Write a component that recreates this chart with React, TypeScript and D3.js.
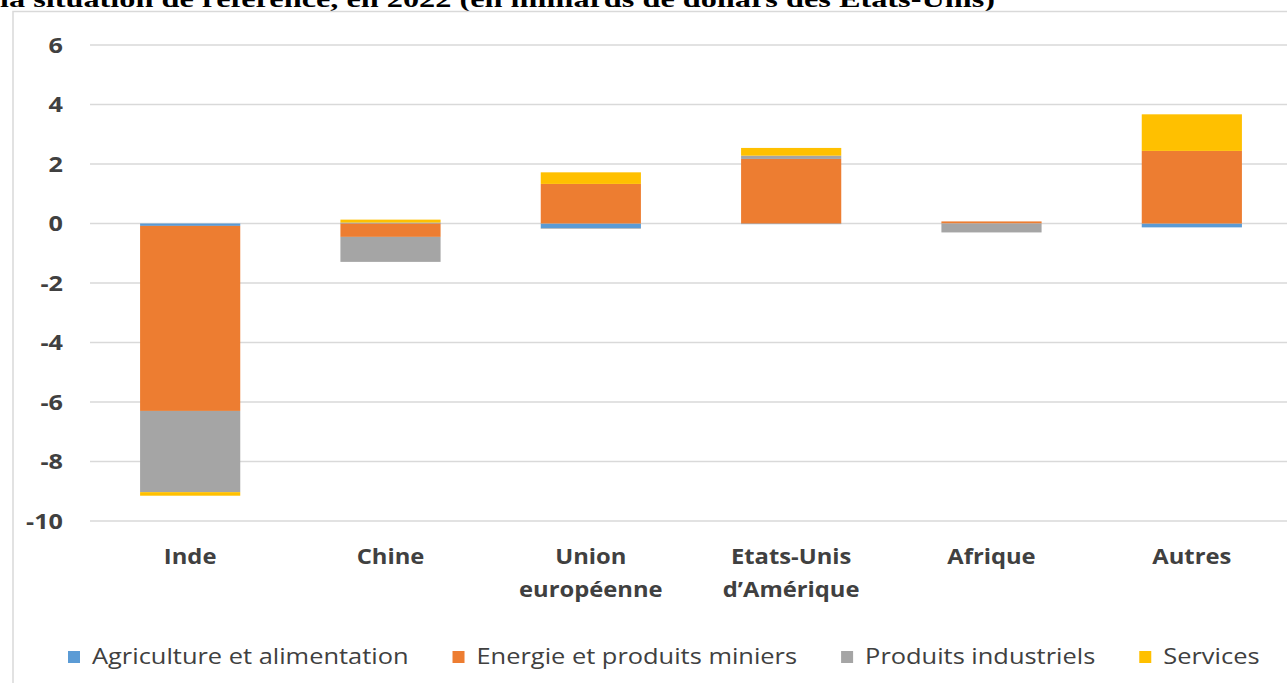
import React, { useEffect, useRef } from 'react';
import * as d3 from 'd3';

const categories = ['Inde', 'Chine', 'Union européenne', 'Etats-Unis d’Amérique', 'Afrique', 'Autres'];
const categoryLines = [['Inde'], ['Chine'], ['Union', 'européenne'], ['Etats-Unis', 'd’Amérique'], ['Afrique'], ['Autres']];

const seriesNames = ['Agriculture et alimentation', 'Energie et produits miniers', 'Produits industriels', 'Services'];
const seriesColors = ['#5b9bd5', '#ed7d31', '#a5a5a5', '#ffc000'];

const agriculture = [-0.08, 0.03, -0.16, -0.02, 0, -0.13];
const energie = [-6.22, -0.45, 1.33, 2.17, 0.07, 2.44];
const industriels = [-2.73, -0.84, -0.02, 0.11, -0.3, 0];
const services = [-0.12, 0.1, 0.39, 0.26, 0, 1.23];

const yTicks = [6, 4, 2, 0, -2, -4, -6, -8, -10];

const title = 'la situation de référence, en 2022 (en milliards de dollars des Etats-Unis)';

const W = 1287;
const H = 683;

// the source picture is a bit wider than tall, so stretch texts sideways
const stretch = (sel: d3.Selection<SVGTextElement, any, any, any>, f: number) => {
  sel.each(function () {
    const w = this.getComputedTextLength();
    d3.select(this)
      .attr('textLength', w * f)
      .attr('lengthAdjust', 'spacingAndGlyphs');
  });
};

const App: React.FC = () => {
  const ref = useRef<SVGSVGElement>(null);

  useEffect(() => {
    if (!ref.current) return;
    const svg = d3.select(ref.current);
    svg.selectAll('*').remove();

    const rows = categories.map((c, i) => ({
      cat: c,
      [seriesNames[0]]: agriculture[i],
      [seriesNames[1]]: energie[i],
      [seriesNames[2]]: industriels[i],
      [seriesNames[3]]: services[i],
    }));

    const x = d3.scaleBand<string>()
      .domain(categories)
      .range([90, 1292])
      .paddingInner(0.5)
      .paddingOuter(0.25);

    const y = d3.scaleLinear()
      .domain([-10, 6])
      .range([521, 45]);

    // title, cut by the top of the page
    svg.append('text')
      .attr('x', 0)
      .attr('y', 7)
      .attr('font-family', '"Liberation Serif", "Times New Roman", serif')
      .attr('font-weight', 'bold')
      .attr('font-size', 24)
      .attr('fill', '#000')
      .attr('textLength', 995)
      .attr('lengthAdjust', 'spacingAndGlyphs')
      .text(title);

    // chart frame
    svg.append('rect')
      .attr('x', 13)
      .attr('y', 11.5)
      .attr('width', W + 20)
      .attr('height', H + 20)
      .attr('fill', 'none')
      .attr('stroke', '#d9d9d9')
      .attr('stroke-width', 1.5);

    // grid
    svg.append('g')
      .selectAll('line')
      .data(yTicks)
      .join('line')
      .attr('x1', 90)
      .attr('x2', W)
      .attr('y1', d => y(d))
      .attr('y2', d => y(d))
      .attr('stroke', '#d9d9d9')
      .attr('stroke-width', 1.5);

    // y labels
    const yLabels = svg.append('g')
      .selectAll<SVGTextElement, number>('text')
      .data(yTicks)
      .join('text')
      .attr('x', 63)
      .attr('y', d => y(d))
      .attr('dy', '0.36em')
      .attr('text-anchor', 'end')
      .attr('font-family', '"Open Sans", "DejaVu Sans", sans-serif')
      .attr('font-weight', 'bold')
      .attr('font-size', 21)
      .attr('fill', '#404040')
      .text(d => String(d));
    stretch(yLabels, 1.2);

    // stacked bars
    const stack = d3.stack<any>()
      .keys(seriesNames)
      .offset(d3.stackOffsetDiverging);
    const layers = stack(rows);

    layers.forEach((layer, k) => {
      svg.append('g')
        .attr('fill', seriesColors[k])
        .selectAll('rect')
        .data(layer)
        .join('rect')
        .attr('x', d => x(d.data.cat) as number)
        .attr('width', x.bandwidth())
        .attr('y', d => y(Math.max(d[0], d[1])))
        .attr('height', d => Math.abs(y(d[0]) - y(d[1])));
    });

    // category labels
    const catG = svg.append('g')
      .attr('font-family', '"Open Sans", "DejaVu Sans", sans-serif')
      .attr('font-weight', 'bold')
      .attr('font-size', 22)
      .attr('fill', '#404040')
      .attr('text-anchor', 'middle');
    categories.forEach((c, i) => {
      categoryLines[i].forEach((line, j) => {
        const t = catG.append('text')
          .attr('x', (x(c) as number) + x.bandwidth() / 2)
          .attr('y', 564 + j * 33)
          .text(line);
        stretch(t as any, 1.08);
      });
    });

    // legend
    const legend = svg.append('g')
      .attr('font-family', '"Open Sans", "DejaVu Sans", sans-serif')
      .attr('font-size', 21)
      .attr('fill', '#404040');
    let lx = 68;
    seriesNames.forEach((name, k) => {
      legend.append('rect')
        .attr('x', lx)
        .attr('y', 651)
        .attr('width', 12)
        .attr('height', 12)
        .attr('fill', seriesColors[k]);
      const t = legend.append('text')
        .attr('x', lx + 24)
        .attr('y', 657)
        .attr('dy', '0.35em')
        .text(name);
      const w = (t.node() as SVGTextElement).getComputedTextLength() * 1.21;
      t.attr('textLength', w).attr('lengthAdjust', 'spacingAndGlyphs');
      lx += 24 + w + 44;
    });
  }, []);

  return (
    <svg
      ref={ref}
      width={W}
      height={H}
      style={{ position: 'absolute', left: 0, top: 0, background: '#fff' }}
    />
  );
};

export default App;
